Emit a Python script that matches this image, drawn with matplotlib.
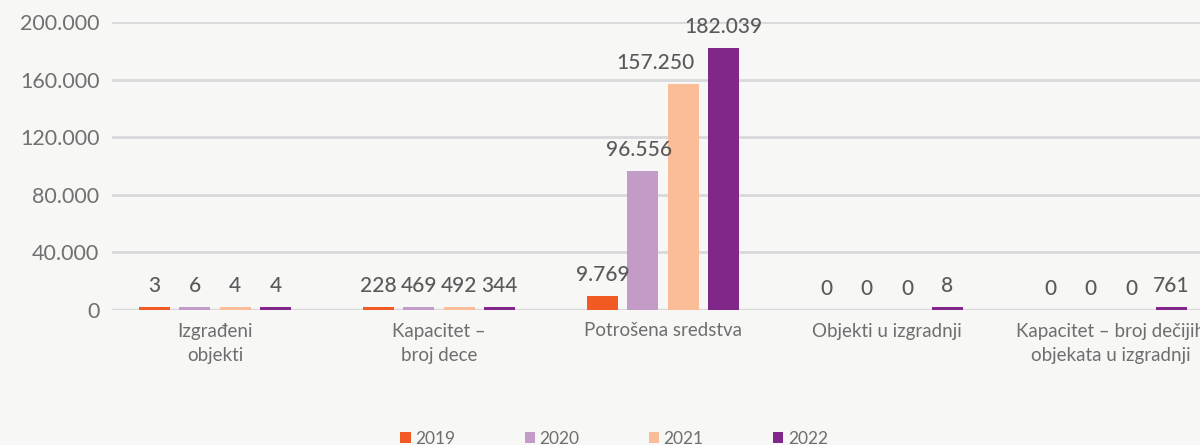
import numpy as np
import matplotlib.pyplot as plt

# data
categories = ["Izgrađeni\nobjekti", "Kapacitet –\nbroj dece", "Potrošena sredstva",
              "Objekti u izgradnji", "Kapacitet – broj dečijih\nobjekata u izgradnji"]
years = ["2019", "2020", "2021", "2022"]
v2019 = [3, 228, 9769, 0, 0]
v2020 = [6, 469, 96556, 0, 0]
v2021 = [4, 492, 157250, 0, 0]
v2022 = [4, 344, 182039, 8, 761]
series = [v2019, v2020, v2021, v2022]
colors = ["#F15A22", "#C29BC6", "#FBBC98", "#82278A"]

bg = "#F7F7F6"
plt.rcParams['font.family'] = ['Lato', 'DejaVu Sans']

fig = plt.figure(figsize=(12, 4.45), dpi=100, facecolor=bg)
# axes spans from x=112px to the right edge; plot area 22px..310px from the top
ax = fig.add_axes([112/1200, 1-310/445, 1-112/1200, 288/445])
ax.set_facecolor(bg)

x = np.arange(len(categories))
step = 0.18
width = 0.138
min_h = 2000  # small non-zero bars still show as a thin sliver
# a couple of labels are nudged left so they don't run into the next bar
label_dx = {(1, 2): -3, (2, 2): -20}

def fmt(v):
    return f"{v:,}".replace(",", ".")

for i, (vals, c, yr) in enumerate(zip(series, colors, years)):
    vals = np.array(vals)
    h = np.where(vals > 0, np.maximum(vals, min_h), 0)
    pos = x + (i - 1.5) * step
    ax.bar(pos, h, width=width, color=c, label=yr, zorder=3)
    for j, (px, hv, v) in enumerate(zip(pos, h, vals)):
        ax.annotate(fmt(v), (px, hv), xytext=(label_dx.get((i, j), 0), 15),
                    textcoords="offset points", ha="center", va="center",
                    fontsize=15, color="#5A5A5A", fontweight="medium", zorder=5)

ax.set_ylim(0, 200000)
ax.set_xlim(-103/224, (1200-215)/224)
ax.set_yticks(np.arange(0, 200001, 40000))
ax.set_yticklabels([fmt(t) for t in range(0, 200001, 40000)])
ax.yaxis.grid(True, color="#D9D9DC", linewidth=2, zorder=0)
ax.tick_params(axis="y", length=0, pad=9, labelsize=15.5, labelcolor="#707070")
ax.set_xticks(x)
ax.set_xticklabels(categories, fontsize=13.5, color="#6E6E6E", linespacing=1.5)
ax.tick_params(axis="x", length=0, pad=9)
for s in ["top", "right", "left", "bottom"]:
    ax.spines[s].set_visible(False)
ax.axhline(0, color="#D9D9DC", linewidth=2.5, zorder=2)

fig.legend(loc="center", bbox_to_anchor=(614/1200, 6/445), ncol=4, frameon=False,
           fontsize=12.5, handlelength=0.6, handleheight=0.6, handletextpad=0.25,
           columnspacing=4.0, labelcolor="#6E6E6E")

plt.savefig("out.png", dpi=100, facecolor=bg)
